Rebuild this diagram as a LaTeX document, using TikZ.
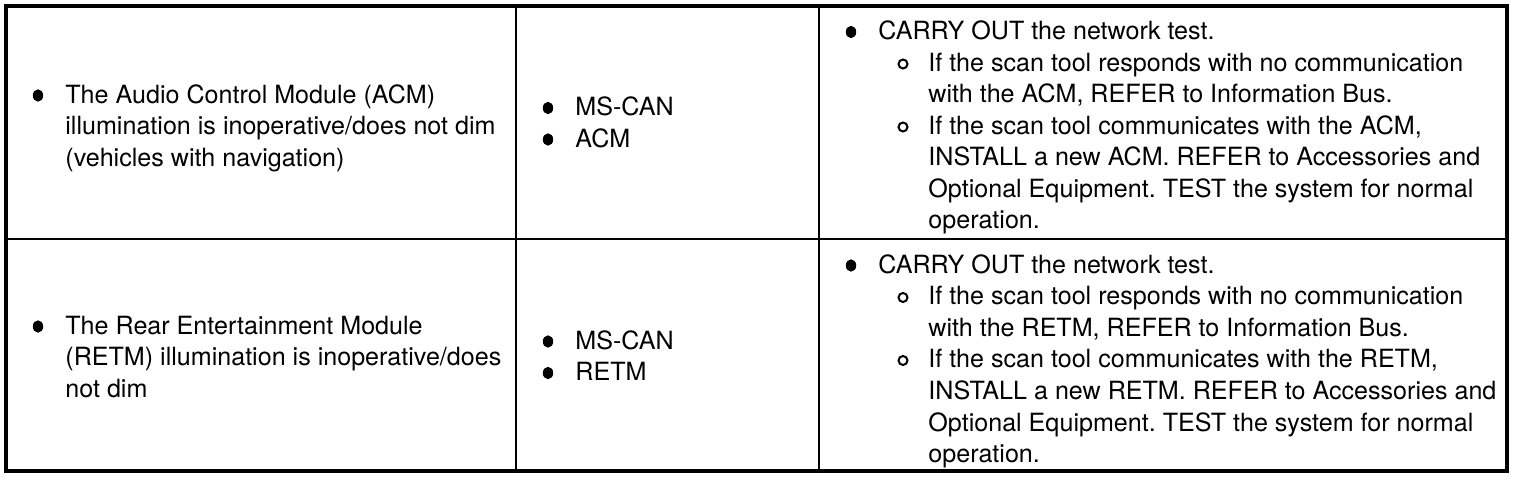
\documentclass[tikz,border=0pt]{standalone}
\usepackage{fontspec}
\setmainfont{TeX Gyre Heros}
\usetikzlibrary{shapes.geometric}
\tikzset{
  txt/.style={anchor=base west, inner sep=0pt, font=\fontsize{12.55pt}{15.75pt}\selectfont\frenchspacing},
  dot/.style={ellipse, fill, inner sep=0pt, minimum width=5.2pt, minimum height=6.2pt},
  ring/.style={circle, draw, line width=1pt, inner sep=0pt, minimum size=4.5pt},
  frame/.style={line width=2pt},
  rule/.style={line width=1pt}
}
\begin{document}
\begin{tikzpicture}[x=0.5pt, y=-0.5pt]
    \def\ls{31.5}
    \useasboundingbox (0,0) rectangle (1520,480);
    % grid of the table
    \coordinate (T0) at (6,6);
    \coordinate (T1) at (1507,471);
    \coordinate (R0) at (6,239);
    \coordinate (R1) at (1507,239);
    \coordinate (C1_0) at (516,6);
    \coordinate (C1_1) at (516,471);
    \coordinate (C2_0) at (819,6);
    \coordinate (C2_1) at (819,471);
    \draw[rule] (R0) -- (R1);
    \draw[rule] (C1_0) -- (C1_1);
    \draw[rule] (C2_0) -- (C2_1);
    \draw[frame] (T0) rectangle (T1);
    % symptom column
    \node[dot] (D1_0) at (38, 95.5) {};
    \foreach \t [count=\i from 0] in {The Audio Control Module (ACM), illumination is inoperative/does not dim, (vehicles with navigation)}
      \node[txt] (S1_\i) at (65, 103.5+\i*\ls) {\t};
    \node[dot] (D2_0) at (38, 326.5) {};
    \foreach \t [count=\i from 0] in {The Rear Entertainment Module, (RETM) illumination is inoperative/does, not dim}
      \node[txt] (S2_\i) at (65, 334.5+\i*\ls) {\t};
    % source and action columns
    \foreach \r/\m/\o in {1/ACM/0, 2/RETM/233.5} {
      \node[dot] (D\r_1a) at (548, 108+\o) {};
      \node[txt] (P\r_0) at (575, 116+\o) {MS-CAN};
      \node[dot] (D\r_1b) at (548, 139.5+\o) {};
      \node[txt] (P\r_1) at (575, 147.5+\o) {\m};
      \node[dot] (D\r_2) at (851, 32+\o) {};
      \node[txt] (A\r_0) at (878, 40+\o) {CARRY OUT the network test.};
      \foreach \t [count=\i] in {If the scan tool responds with no communication, {with the \m, REFER to Information Bus.}, {If the scan tool communicates with the \m,}, INSTALL a new \m. REFER to Accessories and, Optional Equipment. TEST the system for normal, operation.}
        \node[txt] (A\r_\i) at (928, 40+\o+\i*\ls) {\t};
      \node[ring] (O\r_1) at (903, 40+\o+\ls-7.5) {};
      \node[ring] (O\r_3) at (903, 40+\o+3*\ls-7.5) {};
    }
  \end{tikzpicture}
\end{document}
